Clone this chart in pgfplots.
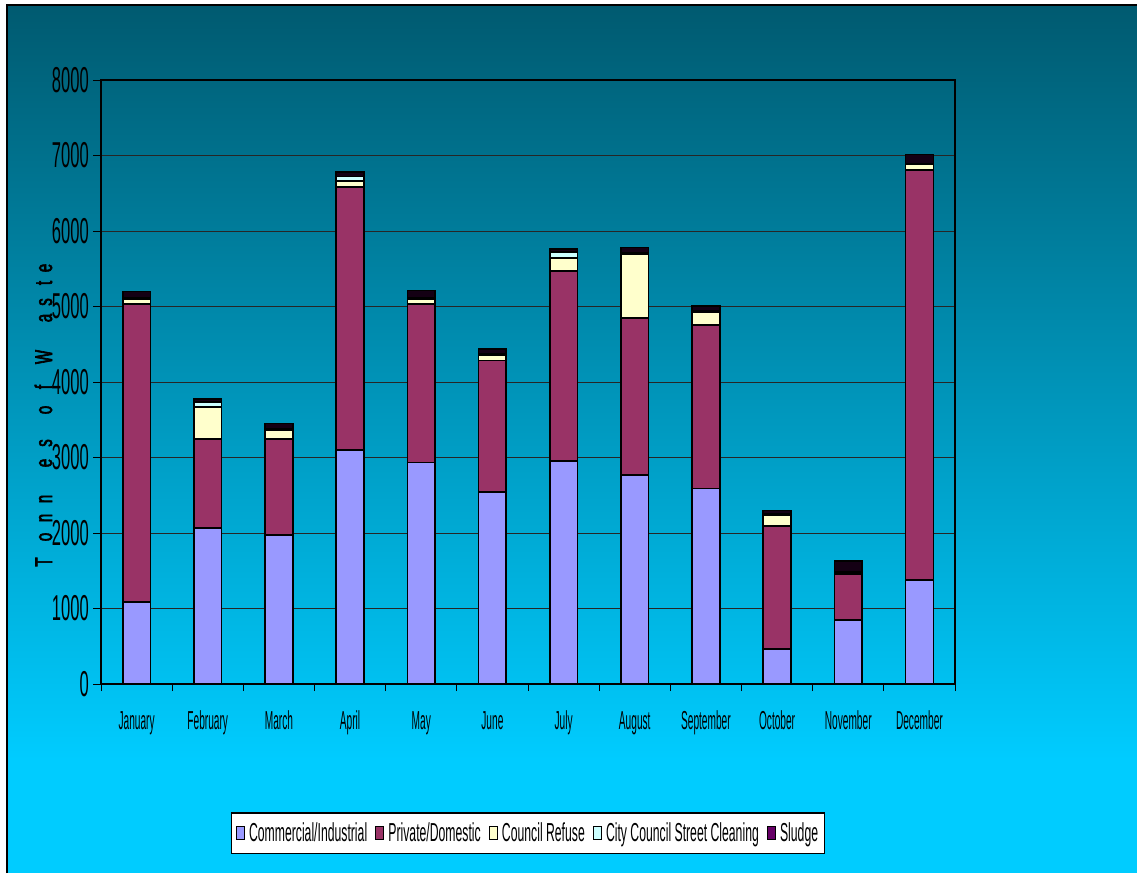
\documentclass[border=0pt]{standalone}
\usepackage{fontspec}
\usepackage{pgfplots}
\pgfplotsset{compat=1.18}
\setmainfont{Liberation Sans}
% condensed faces used throughout the chart
\newfontfamily\tickfam[FakeStretch=0.46]{Liberation Sans}
\newfontfamily\monthfam[FakeStretch=0.39]{Liberation Sans}
\newfontfamily\legendfam[FakeStretch=0.47]{Liberation Sans}
\newfontfamily\ylabfam[FakeStretch=0.62, FakeBold=2.5]{Liberation Sans}
\newcommand\tickfont{\tickfam\fontsize{36}{36}\selectfont}
\newcommand\monthfont{\monthfam\fontsize{26}{26}\selectfont}
\newcommand\legendfont{\legendfam\fontsize{26}{26}\selectfont}
\newcommand\ylabfont{\ylabfam\fontsize{24}{24}\selectfont}

\definecolor{ci}{HTML}{9999FF}
\definecolor{pd}{HTML}{993366}
\definecolor{cr}{HTML}{FFFFCC}
\definecolor{sc}{HTML}{CCFFFF}
\definecolor{sl}{HTML}{660066}
\definecolor{slbar}{HTML}{140014}
\definecolor{bgtop}{HTML}{005A70}
\definecolor{bgmid}{HTML}{008AAF}
\definecolor{bgbot}{HTML}{00CCFF}

\begin{document}
\begin{tikzpicture}
\useasboundingbox (0,0) rectangle (1137pt,873pt);
% page background with vertical gradient
\fill[white] (0,0) rectangle (1137pt,873pt);
\shade[top color=bgtop, middle color=bgmid, bottom color=bgbot] (7pt,113pt) rectangle (1137pt,868pt);
\fill[bgbot] (7pt,0pt) rectangle (1137pt,113.5pt);
\draw[black, line width=1.2pt] (7pt,0pt) -- (7pt,868pt) -- (1137pt,868pt);

% widely spaced vertical axis title
\foreach \ch/\yy in {T/562, o/537, n/518, n/499, e/463, s/443, o/410, f/387, W/357, a/318, s/302, t/283, e/268}
  \node[rotate=90, anchor=base, inner sep=0pt, font=\ylabfont] at (52pt,{(873-\yy)*1pt}) {\ch};

\begin{axis}[
  at={(101pt,189pt)}, anchor=south west,
  scale only axis, width=854pt, height=604pt,
  xmin=-0.5, xmax=11.5, ymin=0, ymax=8000,
  ybar stacked, bar width=0.39,
  axis line style={black, line width=1.6pt},
  ytick={0,1000,...,8000},
  ymajorgrids, major grid style={black!85, line width=0.8pt},
  xtick={0,...,11},
  xticklabels={January,February,March,April,May,June,July,August,September,October,November,December},
  major x tick style={draw=none},
  minor xtick={-0.5,0.5,...,11.5},
  tick pos=left,
  tick align=outside, major tick length=8pt, minor tick length=7pt,
  tick style={black, line width=1pt},
  /pgf/number format/assume math mode=true,
  /pgf/number format/1000 sep={},
  yticklabel style={font=\tickfont, inner sep=0pt, anchor=east, xshift=-4pt},
  xticklabel style={font=\monthfont, inner sep=0pt, anchor=north, text height=19pt, text depth=5pt, yshift=-18pt},
  legend columns=-1,
  legend style={at={(0.5,-0.247)}, anchor=center, draw=black, line width=1.2pt, fill=white,
    font=\legendfont, inner xsep=4pt, inner ysep=8pt,
    /tikz/every even column/.append style={column sep=6pt},
    /tikz/every odd column/.append style={column sep=2pt}},
  legend image code/.code={\draw[#1, line width=1.2pt] (0pt,-6pt) rectangle (8pt,7pt);},
  every axis plot/.append style={draw=black, line width=1.6pt},
]
% Commercial/Industrial
\addplot[fill=ci] coordinates {
  (0,1090) (1,2070) (2,1975) (3,3100) (4,2935) (5,2540)
  (6,2950) (7,2770) (8,2590) (9,460) (10,850) (11,1380)};
% Private/Domestic
\addplot[fill=pd] coordinates {
  (0,3940) (1,1175) (2,1270) (3,3480) (4,2100) (5,1745)
  (6,2520) (7,2080) (8,2165) (9,1635) (10,610) (11,5430)};
% Council Refuse
\addplot[fill=cr] coordinates {
  (0,70) (1,420) (2,120) (3,80) (4,60) (5,70)
  (6,175) (7,840) (8,170) (9,140) (10,10) (11,70)};
% City Council Street Cleaning
\addplot[fill=sc] coordinates {
  (0,20) (1,70) (2,10) (3,60) (4,15) (5,15)
  (6,80) (7,20) (8,15) (9,20) (10,10) (11,15)};
% Sludge
\addplot[fill=slbar, legend image post style={fill=sl}] coordinates {
  (0,80) (1,40) (2,75) (3,60) (4,100) (5,70)
  (6,40) (7,70) (8,70) (9,45) (10,150) (11,120)};
\legend{Commercial/Industrial, Private/Domestic, Council Refuse, City Council Street Cleaning, Sludge}
\end{axis}
\end{tikzpicture}
\end{document}
